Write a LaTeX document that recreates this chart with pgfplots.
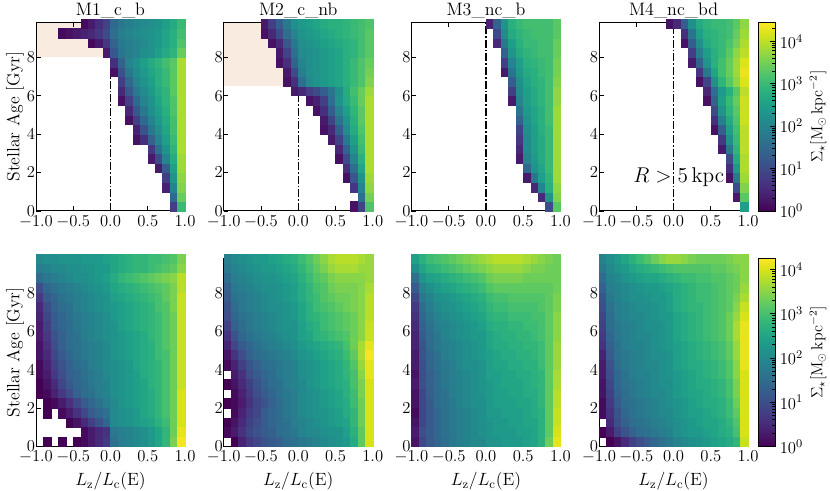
\RequirePackage{fix-cm}
\documentclass[border=0pt]{standalone}
\usepackage{pgfplots}
\usepackage{pgfplotstable}
\pgfplotsset{compat=1.18}
\definecolor{shadecol}{RGB}{250,235,224}
\pgfdeclareplotmark{cell}{\pgfpathrectangle{\pgfpoint{-2.794pt}{-3.602pt}}{\pgfpoint{5.588pt}{7.204pt}}\pgfusepathqfillstroke}
\pgfplotsset{
 panel/.style={scale only axis, width=111.75pt, height=141.2pt, xmin=-1, xmax=1, ymin=0, ymax=9.8,
  xtick={-1,-0.5,0,0.5,1}, xticklabels={$-1.0$,$-0.5$,$0.0$,$0.5$,$1.0$}, ytick={0,2,4,6,8},
  tick align=inside, major tick length=3.5pt, axis on top,
  tick label style={font=\fontsize{12.5}{14}\selectfont, inner xsep=0.5pt},
  ylabel style={font=\fontsize{13.3}{15}\selectfont, at={(axis description cs:-0.141,0.5)}, anchor=center},
  xlabel style={font=\fontsize{13.3}{15}\selectfont, at={(axis description cs:0.5,0)}, anchor=base, yshift=-29.5pt},
  title style={font=\fontsize{13.5}{16}\selectfont, at={(axis description cs:0.5,1)}, anchor=base, yshift=-1pt},
  colormap/viridis, point meta min=0,
  every tick/.style={black, line width=0.6pt}, axis line style={line width=0.7pt}},
 toprow/.style={point meta max=4.44},
 botrow/.style={point meta max=4.25},
 cellplot/.style={scatter, only marks, mark=cell, line width=0.25pt,
  scatter/use mapped color={draw=mapped color, fill=mapped color}, point meta=\thisrow{c}},
 zeroline/.style={black, line width=1.1pt, dash pattern=on 6pt off 1.5pt on 1.2pt off 1.5pt},
 shadeplot/.style={draw=none, fill=shadecol},
 cbcommon/.style={at={(parent axis.north east)}, anchor=north west, xshift=-1pt,
  scale only axis, width=12.75pt, height=141.2pt,
  ytick={0,1,2,3,4}, yticklabels={$10^{0}$,$10^{1}$,$10^{2}$,$10^{3}$,$10^{4}$},
  ytick pos=right, yticklabel pos=right, tick align=inside, major tick length=3.5pt, minor tick length=2pt,
  tick label style={font=\fontsize{12.5}{14}\selectfont}},
 cbtop/.style={colorbar, colorbar style={cbcommon,
  minor ytick={0.301,0.477,0.602,0.699,0.778,0.845,0.903,0.954,1.301,1.477,1.602,1.699,1.778,1.845,1.903,1.954,2.301,2.477,2.602,2.699,2.778,2.845,2.903,2.954,3.301,3.477,3.602,3.699,3.778,3.845,3.903,3.954,4.301}}},
 cbbot/.style={colorbar, colorbar style={cbcommon,
  minor ytick={0.301,0.477,0.602,0.699,0.778,0.845,0.903,0.954,1.301,1.477,1.602,1.699,1.778,1.845,1.903,1.954,2.301,2.477,2.602,2.699,2.778,2.845,2.903,2.954,3.301,3.477,3.602,3.699,3.778,3.845,3.903,3.954}}},
}
% ---- M1 top
\pgfplotstableread{
x y c
0.85 0.25 0.8
0.95 0.25 3.0
0.85 0.75 1.5
0.95 0.75 3.4
0.75 1.25 0.4
0.85 1.25 2.0
0.95 1.25 3.6
0.75 1.75 0.8
0.85 1.75 2.3
0.95 1.75 3.7
0.65 2.25 0.3
0.75 2.25 1.3
0.85 2.25 2.5
0.95 2.25 3.8
0.55 2.75 0.3
0.65 2.75 1.0
0.75 2.75 2.0
0.85 2.75 2.7
0.95 2.75 3.8
0.55 3.25 0.7
0.65 3.25 1.6
0.75 3.25 2.3
0.85 3.25 2.9
0.95 3.25 3.9
0.35 3.75 0.2
0.45 3.75 0.6
0.55 3.75 1.4
0.65 3.75 2.0
0.75 3.75 2.5
0.85 3.75 3.0
0.95 3.75 3.9
0.35 4.25 0.4
0.45 4.25 1.1
0.55 4.25 1.8
0.65 4.25 2.2
0.75 4.25 2.6
0.85 4.25 3.1
0.95 4.25 3.9
0.25 4.75 0.2
0.35 4.75 0.8
0.45 4.75 1.5
0.55 4.75 2.0
0.65 4.75 2.4
0.75 4.75 2.7
0.85 4.75 3.1
0.95 4.75 3.9
0.25 5.25 0.5
0.35 5.25 1.2
0.45 5.25 1.8
0.55 5.25 2.2
0.65 5.25 2.5
0.75 5.25 2.8
0.85 5.25 3.2
0.95 5.25 3.9
0.15 5.75 0.2
0.25 5.75 0.8
0.35 5.75 1.5
0.45 5.75 2.0
0.55 5.75 2.3
0.65 5.75 2.6
0.75 5.75 2.9
0.85 5.75 3.2
0.95 5.75 3.9
0.15 6.25 0.5
0.25 6.25 1.2
0.35 6.25 1.8
0.45 6.25 2.1
0.55 6.25 2.4
0.65 6.25 2.7
0.75 6.25 2.9
0.85 6.25 3.3
0.95 6.25 3.9
0.15 6.75 0.8
0.25 6.75 1.5
0.35 6.75 2.0
0.45 6.75 2.3
0.55 6.75 2.5
0.65 6.75 2.8
0.75 6.75 3.0
0.85 6.75 3.3
0.95 6.75 3.9
0.05 7.25 0.2
0.15 7.25 1.1
0.25 7.25 1.8
0.35 7.25 2.1
0.45 7.25 2.4
0.55 7.25 2.6
0.65 7.25 2.8
0.75 7.25 3.0
0.85 7.25 3.3
0.95 7.25 3.9
0.05 7.75 0.6
0.15 7.75 1.4
0.25 7.75 2.0
0.35 7.75 2.2
0.45 7.75 2.5
0.55 7.75 2.7
0.65 7.75 2.9
0.75 7.75 3.1
0.85 7.75 3.3
0.95 7.75 3.9
-0.05 8.25 0.3
0.05 8.25 1.2
0.15 8.25 1.7
0.25 8.25 1.9
0.35 8.25 2.0
0.45 8.25 2.2
0.55 8.25 2.3
0.65 8.25 2.5
0.75 8.25 2.7
0.85 8.25 2.9
0.95 8.25 3.4
-0.25 8.75 0.1
-0.15 8.75 0.3
-0.05 8.75 0.7
0.05 8.75 1.4
0.15 8.75 1.8
0.25 8.75 1.9
0.35 8.75 2.0
0.45 8.75 2.1
0.55 8.75 2.3
0.65 8.75 2.4
0.75 8.75 2.6
0.85 8.75 2.8
0.95 8.75 3.2
-0.65 9.25 0.1
-0.55 9.25 0.2
-0.45 9.25 0.3
-0.35 9.25 0.4
-0.25 9.25 0.5
-0.15 9.25 0.7
-0.05 9.25 1.0
0.05 9.25 1.6
0.15 9.25 1.9
0.25 9.25 2.0
0.35 9.25 2.1
0.45 9.25 2.2
0.55 9.25 2.3
0.65 9.25 2.4
0.75 9.25 2.6
0.85 9.25 2.8
0.95 9.25 3.1
-0.35 9.75 0.1
-0.25 9.75 0.3
-0.15 9.75 0.6
-0.05 9.75 0.9
0.05 9.75 1.5
0.15 9.75 1.8
0.25 9.75 1.9
0.35 9.75 2.0
0.45 9.75 2.1
0.55 9.75 2.2
0.65 9.75 2.3
0.75 9.75 2.5
0.85 9.75 2.7
0.95 9.75 3.0
}\TabAt
% ---- M2 top
\pgfplotstableread{
x y c
0.75 0.25 0.2
0.85 0.25 0.9
0.95 0.25 3.2
0.85 0.75 1.6
0.95 0.75 3.5
0.75 1.25 0.7
0.85 1.25 2.0
0.95 1.25 3.7
0.65 1.75 0.2
0.75 1.75 1.2
0.85 1.75 2.3
0.95 1.75 3.8
0.65 2.25 0.6
0.75 2.25 1.6
0.85 2.25 2.6
0.95 2.25 3.9
0.55 2.75 0.2
0.65 2.75 1.0
0.75 2.75 2.0
0.85 2.75 2.8
0.95 2.75 3.9
0.55 3.25 0.5
0.65 3.25 1.4
0.75 3.25 2.3
0.85 3.25 3.0
0.95 3.25 3.9
0.45 3.75 0.3
0.55 3.75 0.9
0.65 3.75 1.8
0.75 3.75 2.5
0.85 3.75 3.1
0.95 3.75 3.9
0.35 4.25 0.2
0.45 4.25 0.5
0.55 4.25 1.3
0.65 4.25 2.1
0.75 4.25 2.7
0.85 4.25 3.2
0.95 4.25 3.9
0.35 4.75 0.3
0.45 4.75 0.9
0.55 4.75 1.7
0.65 4.75 2.3
0.75 4.75 2.8
0.85 4.75 3.3
0.95 4.75 3.9
0.25 5.25 0.2
0.35 5.25 0.6
0.45 5.25 1.3
0.55 5.25 2.0
0.65 5.25 2.5
0.75 5.25 2.9
0.85 5.25 3.3
0.95 5.25 3.9
0.15 5.75 0.2
0.25 5.75 0.4
0.35 5.75 0.8
0.45 5.75 1.6
0.55 5.75 2.3
0.65 5.75 2.7
0.75 5.75 3.0
0.85 5.75 3.4
0.95 5.75 3.9
-0.05 6.25 0.3
0.05 6.25 0.5
0.15 6.25 0.8
0.25 6.25 1.0
0.35 6.25 1.3
0.45 6.25 1.7
0.55 6.25 2.2
0.65 6.25 2.7
0.75 6.25 3.1
0.85 6.25 3.4
0.95 6.25 3.8
-0.15 6.75 0.2
-0.05 6.75 0.6
0.05 6.75 1.6
0.15 6.75 2.1
0.25 6.75 2.3
0.35 6.75 2.4
0.45 6.75 2.5
0.55 6.75 2.6
0.65 6.75 2.8
0.75 6.75 3.0
0.85 6.75 3.2
0.95 6.75 3.6
-0.15 7.25 0.3
-0.05 7.25 1.0
0.05 7.25 1.9
0.15 7.25 2.2
0.25 7.25 2.3
0.35 7.25 2.4
0.45 7.25 2.5
0.55 7.25 2.6
0.65 7.25 2.8
0.75 7.25 3.0
0.85 7.25 3.2
0.95 7.25 3.5
-0.25 7.75 0.2
-0.15 7.75 0.6
-0.05 7.75 1.4
0.05 7.75 2.0
0.15 7.75 2.2
0.25 7.75 2.3
0.35 7.75 2.4
0.45 7.75 2.5
0.55 7.75 2.6
0.65 7.75 2.8
0.75 7.75 3.0
0.85 7.75 3.2
0.95 7.75 3.4
-0.25 8.25 0.3
-0.15 8.25 0.9
-0.05 8.25 1.6
0.05 8.25 2.1
0.15 8.25 2.2
0.25 8.25 2.3
0.35 8.25 2.4
0.45 8.25 2.5
0.55 8.25 2.6
0.65 8.25 2.8
0.75 8.25 2.9
0.85 8.25 3.1
0.95 8.25 3.3
-0.35 8.75 0.2
-0.25 8.75 0.5
-0.15 8.75 1.2
-0.05 8.75 1.8
0.05 8.75 2.2
0.15 8.75 2.3
0.25 8.75 2.4
0.35 8.75 2.5
0.45 8.75 2.6
0.55 8.75 2.7
0.65 8.75 2.8
0.75 8.75 2.9
0.85 8.75 3.1
0.95 8.75 3.3
-0.45 9.25 0.2
-0.35 9.25 0.5
-0.25 9.25 1.0
-0.15 9.25 1.6
-0.05 9.25 2.0
0.05 9.25 2.3
0.15 9.25 2.4
0.25 9.25 2.5
0.35 9.25 2.6
0.45 9.25 2.7
0.55 9.25 2.8
0.65 9.25 2.9
0.75 9.25 3.0
0.85 9.25 3.1
0.95 9.25 3.3
-0.45 9.75 0.3
-0.35 9.75 0.8
-0.25 9.75 1.3
-0.15 9.75 1.8
-0.05 9.75 2.2
0.05 9.75 2.4
0.15 9.75 2.5
0.25 9.75 2.6
0.35 9.75 2.7
0.45 9.75 2.8
0.55 9.75 2.8
0.65 9.75 2.9
0.75 9.75 3.0
0.85 9.75 3.1
0.95 9.75 3.2
}\TabBt
% ---- M3 top
\pgfplotstableread{
x y c
0.85 0.25 1.0
0.95 0.25 3.3
0.75 0.75 0.5
0.85 0.75 2.3
0.95 0.75 3.6
0.65 1.25 0.5
0.75 1.25 2.0
0.85 1.25 2.8
0.95 1.25 3.7
0.55 1.75 0.3
0.65 1.75 1.8
0.75 1.75 2.5
0.85 1.75 2.9
0.95 1.75 3.8
0.55 2.25 1.5
0.65 2.25 2.3
0.75 2.25 2.6
0.85 2.25 3.0
0.95 2.25 3.8
0.45 2.75 0.3
0.55 2.75 2.0
0.65 2.75 2.4
0.75 2.75 2.7
0.85 2.75 3.0
0.95 2.75 3.8
0.45 3.25 0.5
0.55 3.25 2.1
0.65 3.25 2.5
0.75 3.25 2.7
0.85 3.25 3.0
0.95 3.25 3.8
0.45 3.75 0.7
0.55 3.75 2.1
0.65 3.75 2.5
0.75 3.75 2.7
0.85 3.75 3.0
0.95 3.75 3.8
0.45 4.25 0.9
0.55 4.25 2.2
0.65 4.25 2.5
0.75 4.25 2.8
0.85 4.25 3.0
0.95 4.25 3.8
0.45 4.75 1.4
0.55 4.75 2.3
0.65 4.75 2.6
0.75 4.75 2.8
0.85 4.75 3.1
0.95 4.75 3.8
0.45 5.25 1.7
0.55 5.25 2.4
0.65 5.25 2.6
0.75 5.25 2.8
0.85 5.25 3.1
0.95 5.25 3.8
0.35 5.75 0.3
0.45 5.75 2.0
0.55 5.75 2.5
0.65 5.75 2.7
0.75 5.75 2.9
0.85 5.75 3.1
0.95 5.75 3.7
0.35 6.25 0.8
0.45 6.25 2.1
0.55 6.25 2.5
0.65 6.25 2.7
0.75 6.25 2.9
0.85 6.25 3.1
0.95 6.25 3.7
0.35 6.75 1.3
0.45 6.75 2.2
0.55 6.75 2.6
0.65 6.75 2.8
0.75 6.75 2.9
0.85 6.75 3.1
0.95 6.75 3.6
0.25 7.25 0.3
0.35 7.25 1.7
0.45 7.25 2.4
0.55 7.25 2.7
0.65 7.25 2.8
0.75 7.25 3.0
0.85 7.25 3.1
0.95 7.25 3.5
0.25 7.75 0.8
0.35 7.75 2.0
0.45 7.75 2.5
0.55 7.75 2.8
0.65 7.75 2.9
0.75 7.75 3.0
0.85 7.75 3.1
0.95 7.75 3.5
0.25 8.25 1.4
0.35 8.25 2.3
0.45 8.25 2.7
0.55 8.25 2.9
0.65 8.25 3.0
0.75 8.25 3.1
0.85 8.25 3.1
0.95 8.25 3.4
0.15 8.75 0.5
0.25 8.75 1.8
0.35 8.75 2.5
0.45 8.75 2.8
0.55 8.75 3.0
0.65 8.75 3.0
0.75 8.75 3.1
0.85 8.75 3.1
0.95 8.75 3.4
0.15 9.25 1.0
0.25 9.25 2.1
0.35 9.25 2.7
0.45 9.25 2.9
0.55 9.25 3.0
0.65 9.25 3.1
0.75 9.25 3.1
0.85 9.25 3.1
0.95 9.25 3.3
0.05 9.75 0.4
0.15 9.75 1.4
0.25 9.75 2.3
0.35 9.75 2.8
0.45 9.75 3.0
0.55 9.75 3.1
0.65 9.75 3.1
0.75 9.75 3.1
0.85 9.75 3.1
0.95 9.75 3.3
}\TabCt
% ---- M4 top
\pgfplotstableread{
x y c
0.95 0.25 2.5
0.85 0.75 0.3
0.95 0.75 3.3
0.85 1.25 1.0
0.95 1.25 3.6
0.75 1.75 0.2
0.85 1.75 1.8
0.95 1.75 3.8
0.75 2.25 0.6
0.85 2.25 2.4
0.95 2.25 3.9
0.75 2.75 1.0
0.85 2.75 2.7
0.95 2.75 3.9
0.65 3.25 0.3
0.75 3.25 1.8
0.85 3.25 2.9
0.95 3.25 4.0
0.65 3.75 0.7
0.75 3.75 2.2
0.85 3.75 3.0
0.95 3.75 4.0
0.55 4.25 0.2
0.65 4.25 1.3
0.75 4.25 2.5
0.85 4.25 3.1
0.95 4.25 4.0
0.55 4.75 0.6
0.65 4.75 1.9
0.75 4.75 2.7
0.85 4.75 3.2
0.95 4.75 4.1
0.55 5.25 1.0
0.65 5.25 2.3
0.75 5.25 2.9
0.85 5.25 3.3
0.95 5.25 4.1
0.45 5.75 0.2
0.55 5.75 1.4
0.65 5.75 2.5
0.75 5.75 3.0
0.85 5.75 3.4
0.95 5.75 4.1
0.45 6.25 0.5
0.55 6.25 1.6
0.65 6.25 2.4
0.75 6.25 2.8
0.85 6.25 3.3
0.95 6.25 4.0
0.35 6.75 0.2
0.45 6.75 0.9
0.55 6.75 2.2
0.65 6.75 2.9
0.75 6.75 3.3
0.85 6.75 3.7
0.95 6.75 4.2
0.35 7.25 0.7
0.45 7.25 1.8
0.55 7.25 2.6
0.65 7.25 3.1
0.75 7.25 3.4
0.85 7.25 3.8
0.95 7.25 4.3
0.25 7.75 0.3
0.35 7.75 1.4
0.45 7.75 2.3
0.55 7.75 2.8
0.65 7.75 3.1
0.75 7.75 3.4
0.85 7.75 3.8
0.95 7.75 4.2
0.25 8.25 0.8
0.35 8.25 1.9
0.45 8.25 2.5
0.55 8.25 2.8
0.65 8.25 3.0
0.75 8.25 3.3
0.85 8.25 3.7
0.95 8.25 4.0
0.15 8.75 0.2
0.25 8.75 1.3
0.35 8.75 2.2
0.45 8.75 2.7
0.55 8.75 2.9
0.65 8.75 3.0
0.75 8.75 3.2
0.85 8.75 3.5
0.95 8.75 3.9
0.15 9.25 0.6
0.25 9.25 1.7
0.35 9.25 2.5
0.45 9.25 2.8
0.55 9.25 2.9
0.65 9.25 3.0
0.75 9.25 3.1
0.85 9.25 3.4
0.95 9.25 3.8
-0.05 9.75 0.2
0.05 9.75 0.5
0.15 9.75 1.3
0.25 9.75 2.2
0.35 9.75 2.7
0.45 9.75 2.9
0.55 9.75 3.0
0.65 9.75 3.0
0.75 9.75 3.1
0.85 9.75 3.3
0.95 9.75 3.7
}\TabDt
% ---- M1 bottom
\pgfplotstableread{
x y c
-0.95 9.75 2.0
-0.85 9.75 2.1
-0.75 9.75 2.1
-0.65 9.75 2.2
-0.55 9.75 2.2
-0.45 9.75 2.2
-0.35 9.75 2.3
-0.25 9.75 2.3
-0.15 9.75 2.3
-0.05 9.75 2.4
0.05 9.75 2.5
0.15 9.75 2.6
0.25 9.75 2.7
0.35 9.75 2.8
0.45 9.75 2.8
0.55 9.75 2.9
0.65 9.75 2.9
0.75 9.75 3.0
0.85 9.75 3.1
0.95 9.75 3.4
-0.95 9.25 1.8
-0.85 9.25 1.9
-0.75 9.25 2.0
-0.65 9.25 2.0
-0.55 9.25 2.1
-0.45 9.25 2.1
-0.35 9.25 2.2
-0.25 9.25 2.2
-0.15 9.25 2.3
-0.05 9.25 2.3
0.05 9.25 2.5
0.15 9.25 2.6
0.25 9.25 2.7
0.35 9.25 2.8
0.45 9.25 2.8
0.55 9.25 2.9
0.65 9.25 3.0
0.75 9.25 3.1
0.85 9.25 3.2
0.95 9.25 3.5
-0.95 8.75 1.5
-0.85 8.75 1.7
-0.75 8.75 1.8
-0.65 8.75 1.9
-0.55 8.75 2.0
-0.45 8.75 2.1
-0.35 8.75 2.1
-0.25 8.75 2.2
-0.15 8.75 2.3
-0.05 8.75 2.4
0.05 8.75 2.6
0.15 8.75 2.8
0.25 8.75 2.9
0.35 8.75 3.0
0.45 8.75 3.1
0.55 8.75 3.2
0.65 8.75 3.3
0.75 8.75 3.4
0.85 8.75 3.5
0.95 8.75 3.8
-0.95 8.25 1.0
-0.85 8.25 1.4
-0.75 8.25 1.6
-0.65 8.25 1.7
-0.55 8.25 1.8
-0.45 8.25 1.9
-0.35 8.25 2.0
-0.25 8.25 2.1
-0.15 8.25 2.2
-0.05 8.25 2.3
0.05 8.25 2.5
0.15 8.25 2.6
0.25 8.25 2.7
0.35 8.25 2.8
0.45 8.25 2.9
0.55 8.25 3.0
0.65 8.25 3.1
0.75 8.25 3.2
0.85 8.25 3.4
0.95 8.25 3.8
-0.95 7.75 0.7
-0.85 7.75 1.2
-0.75 7.75 1.4
-0.65 7.75 1.6
-0.55 7.75 1.7
-0.45 7.75 1.8
-0.35 7.75 1.9
-0.25 7.75 2.0
-0.15 7.75 2.1
-0.05 7.75 2.2
0.05 7.75 2.4
0.15 7.75 2.5
0.25 7.75 2.6
0.35 7.75 2.7
0.45 7.75 2.8
0.55 7.75 2.9
0.65 7.75 3.0
0.75 7.75 3.2
0.85 7.75 3.4
0.95 7.75 3.9
-0.95 7.25 0.5
-0.85 7.25 1.0
-0.75 7.25 1.3
-0.65 7.25 1.5
-0.55 7.25 1.6
-0.45 7.25 1.8
-0.35 7.25 1.9
-0.25 7.25 2.0
-0.15 7.25 2.1
-0.05 7.25 2.2
0.05 7.25 2.3
0.15 7.25 2.4
0.25 7.25 2.5
0.35 7.25 2.6
0.45 7.25 2.7
0.55 7.25 2.8
0.65 7.25 3.0
0.75 7.25 3.1
0.85 7.25 3.4
0.95 7.25 3.9
-0.95 6.75 0.4
-0.85 6.75 0.9
-0.75 6.75 1.2
-0.65 6.75 1.4
-0.55 6.75 1.6
-0.45 6.75 1.7
-0.35 6.75 1.8
-0.25 6.75 1.9
-0.15 6.75 2.0
-0.05 6.75 2.1
0.05 6.75 2.3
0.15 6.75 2.4
0.25 6.75 2.5
0.35 6.75 2.6
0.45 6.75 2.7
0.55 6.75 2.8
0.65 6.75 2.9
0.75 6.75 3.1
0.85 6.75 3.3
0.95 6.75 3.9
-0.95 6.25 0.3
-0.85 6.25 0.8
-0.75 6.25 1.2
-0.65 6.25 1.4
-0.55 6.25 1.5
-0.45 6.25 1.7
-0.35 6.25 1.8
-0.25 6.25 1.9
-0.15 6.25 2.0
-0.05 6.25 2.1
0.05 6.25 2.2
0.15 6.25 2.4
0.25 6.25 2.5
0.35 6.25 2.6
0.45 6.25 2.7
0.55 6.25 2.8
0.65 6.25 2.9
0.75 6.25 3.1
0.85 6.25 3.3
0.95 6.25 3.9
-0.95 5.75 0.3
-0.85 5.75 0.7
-0.75 5.75 1.1
-0.65 5.75 1.3
-0.55 5.75 1.5
-0.45 5.75 1.6
-0.35 5.75 1.8
-0.25 5.75 1.9
-0.15 5.75 2.0
-0.05 5.75 2.1
0.05 5.75 2.2
0.15 5.75 2.3
0.25 5.75 2.4
0.35 5.75 2.5
0.45 5.75 2.6
0.55 5.75 2.8
0.65 5.75 2.9
0.75 5.75 3.1
0.85 5.75 3.3
0.95 5.75 3.9
-0.95 5.25 0.2
-0.85 5.25 0.6
-0.75 5.25 1.0
-0.65 5.25 1.3
-0.55 5.25 1.5
-0.45 5.25 1.6
-0.35 5.25 1.7
-0.25 5.25 1.8
-0.15 5.25 1.9
-0.05 5.25 2.0
0.05 5.25 2.2
0.15 5.25 2.3
0.25 5.25 2.4
0.35 5.25 2.5
0.45 5.25 2.6
0.55 5.25 2.7
0.65 5.25 2.9
0.75 5.25 3.1
0.85 5.25 3.3
0.95 5.25 3.9
-0.95 4.75 0.2
-0.85 4.75 0.5
-0.75 4.75 0.9
-0.65 4.75 1.2
-0.55 4.75 1.4
-0.45 4.75 1.6
-0.35 4.75 1.7
-0.25 4.75 1.8
-0.15 4.75 1.9
-0.05 4.75 2.0
0.05 4.75 2.2
0.15 4.75 2.3
0.25 4.75 2.4
0.35 4.75 2.5
0.45 4.75 2.6
0.55 4.75 2.7
0.65 4.75 2.9
0.75 4.75 3.0
0.85 4.75 3.3
0.95 4.75 3.9
-0.95 4.25 0.1
-0.85 4.25 0.4
-0.75 4.25 0.8
-0.65 4.25 1.1
-0.55 4.25 1.3
-0.45 4.25 1.5
-0.35 4.25 1.6
-0.25 4.25 1.8
-0.15 4.25 1.9
-0.05 4.25 2.0
0.05 4.25 2.1
0.15 4.25 2.2
0.25 4.25 2.3
0.35 4.25 2.5
0.45 4.25 2.6
0.55 4.25 2.7
0.65 4.25 2.8
0.75 4.25 3.0
0.85 4.25 3.3
0.95 4.25 3.9
-0.95 3.75 0.1
-0.85 3.75 0.3
-0.75 3.75 0.7
-0.65 3.75 1.0
-0.55 3.75 1.3
-0.45 3.75 1.4
-0.35 3.75 1.6
-0.25 3.75 1.7
-0.15 3.75 1.8
-0.05 3.75 2.0
0.05 3.75 2.1
0.15 3.75 2.2
0.25 3.75 2.3
0.35 3.75 2.4
0.45 3.75 2.6
0.55 3.75 2.7
0.65 3.75 2.8
0.75 3.75 3.0
0.85 3.75 3.3
0.95 3.75 3.9
-0.95 3.25 0.0
-0.85 3.25 0.2
-0.75 3.25 0.5
-0.65 3.25 0.9
-0.55 3.25 1.2
-0.45 3.25 1.4
-0.35 3.25 1.5
-0.25 3.25 1.7
-0.15 3.25 1.8
-0.05 3.25 1.9
0.05 3.25 2.1
0.15 3.25 2.2
0.25 3.25 2.3
0.35 3.25 2.4
0.45 3.25 2.5
0.55 3.25 2.7
0.65 3.25 2.8
0.75 3.25 3.0
0.85 3.25 3.3
0.95 3.25 3.9
-0.95 2.75 0.0
-0.85 2.75 0.1
-0.75 2.75 0.4
-0.65 2.75 0.7
-0.55 2.75 1.0
-0.45 2.75 1.3
-0.35 2.75 1.5
-0.25 2.75 1.6
-0.15 2.75 1.8
-0.05 2.75 1.9
0.05 2.75 2.1
0.15 2.75 2.2
0.25 2.75 2.3
0.35 2.75 2.4
0.45 2.75 2.5
0.55 2.75 2.6
0.65 2.75 2.8
0.75 2.75 3.0
0.85 2.75 3.3
0.95 2.75 4.0
-0.85 2.25 0.0
-0.75 2.25 0.1
-0.65 2.25 0.3
-0.55 2.25 0.6
-0.45 2.25 0.9
-0.35 2.25 1.2
-0.25 2.25 1.4
-0.15 2.25 1.6
-0.05 2.25 1.8
0.05 2.25 2.0
0.15 2.25 2.2
0.25 2.25 2.3
0.35 2.25 2.4
0.45 2.25 2.5
0.55 2.25 2.6
0.65 2.25 2.8
0.75 2.25 3.0
0.85 2.25 3.3
0.95 2.25 4.0
-0.85 1.75 0.0
-0.65 1.75 0.1
-0.55 1.75 0.3
-0.45 1.75 0.6
-0.35 1.75 0.9
-0.25 1.75 1.2
-0.15 1.75 1.4
-0.05 1.75 1.6
0.05 1.75 2.0
0.15 1.75 2.1
0.25 1.75 2.2
0.35 1.75 2.3
0.45 1.75 2.5
0.55 1.75 2.6
0.65 1.75 2.8
0.75 1.75 3.0
0.85 1.75 3.3
0.95 1.75 4.0
-0.55 1.25 0.0
-0.45 1.25 0.2
-0.35 1.25 0.5
-0.25 1.25 0.8
-0.15 1.25 1.1
-0.05 1.25 1.4
0.05 1.25 2.0
0.15 1.25 2.1
0.25 1.25 2.2
0.35 1.25 2.3
0.45 1.25 2.4
0.55 1.25 2.5
0.65 1.25 2.7
0.75 1.25 2.9
0.85 1.25 3.3
0.95 1.25 4.0
-0.35 0.75 0.1
-0.25 0.75 0.3
-0.15 0.75 0.5
-0.05 0.75 0.6
0.05 0.75 1.7
0.15 0.75 1.8
0.25 0.75 1.9
0.35 0.75 2.0
0.45 0.75 2.1
0.55 0.75 2.3
0.65 0.75 2.5
0.75 0.75 2.8
0.85 0.75 3.3
0.95 0.75 4.1
-0.85 0.25 0.0
-0.65 0.25 0.0
-0.45 0.25 0.0
-0.35 0.25 0.1
-0.25 0.25 0.3
-0.15 0.25 0.5
-0.05 0.25 0.7
0.05 0.25 1.6
0.15 0.25 1.8
0.25 0.25 1.9
0.35 0.25 2.0
0.45 0.25 2.1
0.55 0.25 2.3
0.65 0.25 2.5
0.75 0.25 2.8
0.85 0.25 3.4
0.95 0.25 4.2
}\TabAb
% ---- M2 bottom
\pgfplotstableread{
x y c
-0.95 9.75 1.8
-0.85 9.75 2.0
-0.75 9.75 2.1
-0.65 9.75 2.2
-0.55 9.75 2.3
-0.45 9.75 2.3
-0.35 9.75 2.4
-0.25 9.75 2.5
-0.15 9.75 2.6
-0.05 9.75 2.7
0.05 9.75 2.9
0.15 9.75 3.1
0.25 9.75 3.3
0.35 9.75 3.5
0.45 9.75 3.7
0.55 9.75 3.8
0.65 9.75 3.8
0.75 9.75 3.8
0.85 9.75 3.7
0.95 9.75 3.6
-0.95 9.25 1.7
-0.85 9.25 1.9
-0.75 9.25 2.0
-0.65 9.25 2.1
-0.55 9.25 2.2
-0.45 9.25 2.3
-0.35 9.25 2.3
-0.25 9.25 2.4
-0.15 9.25 2.5
-0.05 9.25 2.6
0.05 9.25 2.8
0.15 9.25 3.0
0.25 9.25 3.2
0.35 9.25 3.4
0.45 9.25 3.6
0.55 9.25 3.7
0.65 9.25 3.7
0.75 9.25 3.7
0.85 9.25 3.6
0.95 9.25 3.6
-0.95 8.75 1.5
-0.85 8.75 1.8
-0.75 8.75 1.9
-0.65 8.75 2.0
-0.55 8.75 2.1
-0.45 8.75 2.2
-0.35 8.75 2.2
-0.25 8.75 2.3
-0.15 8.75 2.4
-0.05 8.75 2.5
0.05 8.75 2.7
0.15 8.75 2.9
0.25 8.75 3.1
0.35 8.75 3.2
0.45 8.75 3.4
0.55 8.75 3.5
0.65 8.75 3.5
0.75 8.75 3.5
0.85 8.75 3.5
0.95 8.75 3.6
-0.95 8.25 1.3
-0.85 8.25 1.7
-0.75 8.25 1.8
-0.65 8.25 1.9
-0.55 8.25 2.0
-0.45 8.25 2.1
-0.35 8.25 2.1
-0.25 8.25 2.2
-0.15 8.25 2.3
-0.05 8.25 2.4
0.05 8.25 2.6
0.15 8.25 2.8
0.25 8.25 3.0
0.35 8.25 3.1
0.45 8.25 3.3
0.55 8.25 3.4
0.65 8.25 3.4
0.75 8.25 3.4
0.85 8.25 3.5
0.95 8.25 3.7
-0.95 7.75 1.2
-0.85 7.75 1.6
-0.75 7.75 1.7
-0.65 7.75 1.8
-0.55 7.75 1.9
-0.45 7.75 2.0
-0.35 7.75 2.1
-0.25 7.75 2.2
-0.15 7.75 2.3
-0.05 7.75 2.4
0.05 7.75 2.6
0.15 7.75 2.8
0.25 7.75 2.9
0.35 7.75 3.1
0.45 7.75 3.2
0.55 7.75 3.3
0.65 7.75 3.3
0.75 7.75 3.4
0.85 7.75 3.5
0.95 7.75 3.8
-0.95 7.25 1.1
-0.85 7.25 1.5
-0.75 7.25 1.7
-0.65 7.25 1.8
-0.55 7.25 1.9
-0.45 7.25 2.0
-0.35 7.25 2.1
-0.25 7.25 2.1
-0.15 7.25 2.2
-0.05 7.25 2.3
0.05 7.25 2.5
0.15 7.25 2.7
0.25 7.25 2.9
0.35 7.25 3.0
0.45 7.25 3.1
0.55 7.25 3.2
0.65 7.25 3.3
0.75 7.25 3.4
0.85 7.25 3.5
0.95 7.25 3.8
-0.95 6.75 1.0
-0.85 6.75 1.4
-0.75 6.75 1.6
-0.65 6.75 1.7
-0.55 6.75 1.8
-0.45 6.75 1.9
-0.35 6.75 2.0
-0.25 6.75 2.1
-0.15 6.75 2.2
-0.05 6.75 2.3
0.05 6.75 2.5
0.15 6.75 2.7
0.25 6.75 2.8
0.35 6.75 2.9
0.45 6.75 3.0
0.55 6.75 3.1
0.65 6.75 3.2
0.75 6.75 3.3
0.85 6.75 3.5
0.95 6.75 3.8
-0.95 6.25 0.8
-0.85 6.25 1.3
-0.75 6.25 1.5
-0.65 6.25 1.7
-0.55 6.25 1.8
-0.45 6.25 1.9
-0.35 6.25 2.0
-0.25 6.25 2.1
-0.15 6.25 2.2
-0.05 6.25 2.2
0.05 6.25 2.4
0.15 6.25 2.6
0.25 6.25 2.7
0.35 6.25 2.9
0.45 6.25 3.0
0.55 6.25 3.1
0.65 6.25 3.2
0.75 6.25 3.3
0.85 6.25 3.5
0.95 6.25 3.9
-0.95 5.75 0.6
-0.85 5.75 1.1
-0.75 5.75 1.4
-0.65 5.75 1.6
-0.55 5.75 1.7
-0.45 5.75 1.8
-0.35 5.75 1.9
-0.25 5.75 2.0
-0.15 5.75 2.1
-0.05 5.75 2.2
0.05 5.75 2.4
0.15 5.75 2.5
0.25 5.75 2.7
0.35 5.75 2.8
0.45 5.75 2.9
0.55 5.75 3.0
0.65 5.75 3.1
0.75 5.75 3.3
0.85 5.75 3.5
0.95 5.75 3.9
-0.95 5.25 0.4
-0.85 5.25 0.9
-0.75 5.25 1.2
-0.65 5.25 1.4
-0.55 5.25 1.6
-0.45 5.25 1.7
-0.35 5.25 1.8
-0.25 5.25 1.9
-0.15 5.25 2.0
-0.05 5.25 2.1
0.05 5.25 2.3
0.15 5.25 2.4
0.25 5.25 2.5
0.35 5.25 2.6
0.45 5.25 2.7
0.55 5.25 2.8
0.65 5.25 3.0
0.75 5.25 3.3
0.85 5.25 3.7
0.95 5.25 4.1
-0.95 4.75 0.2
-0.85 4.75 0.6
-0.75 4.75 1.0
-0.65 4.75 1.3
-0.55 4.75 1.5
-0.45 4.75 1.6
-0.35 4.75 1.7
-0.25 4.75 1.8
-0.15 4.75 1.9
-0.05 4.75 2.0
0.05 4.75 2.2
0.15 4.75 2.3
0.25 4.75 2.4
0.35 4.75 2.5
0.45 4.75 2.6
0.55 4.75 2.7
0.65 4.75 2.9
0.75 4.75 3.2
0.85 4.75 3.7
0.95 4.75 4.2
-0.95 4.25 0.1
-0.85 4.25 0.4
-0.75 4.25 0.8
-0.65 4.25 1.1
-0.55 4.25 1.3
-0.45 4.25 1.5
-0.35 4.25 1.6
-0.25 4.25 1.7
-0.15 4.25 1.8
-0.05 4.25 1.9
0.05 4.25 2.1
0.15 4.25 2.2
0.25 4.25 2.3
0.35 4.25 2.4
0.45 4.25 2.5
0.55 4.25 2.6
0.65 4.25 2.8
0.75 4.25 3.1
0.85 4.25 3.6
0.95 4.25 4.1
-0.85 3.75 0.3
-0.75 3.75 0.6
-0.65 3.75 1.0
-0.55 3.75 1.2
-0.45 3.75 1.4
-0.35 3.75 1.5
-0.25 3.75 1.7
-0.15 3.75 1.8
-0.05 3.75 1.9
0.05 3.75 2.1
0.15 3.75 2.2
0.25 3.75 2.3
0.35 3.75 2.4
0.45 3.75 2.5
0.55 3.75 2.6
0.65 3.75 2.8
0.75 3.75 3.0
0.85 3.75 3.5
0.95 3.75 4.1
-0.95 3.25 0.0
-0.85 3.25 0.2
-0.75 3.25 0.5
-0.65 3.25 0.8
-0.55 3.25 1.1
-0.45 3.25 1.3
-0.35 3.25 1.5
-0.25 3.25 1.6
-0.15 3.25 1.8
-0.05 3.25 1.9
0.05 3.25 2.0
0.15 3.25 2.2
0.25 3.25 2.3
0.35 3.25 2.4
0.45 3.25 2.5
0.55 3.25 2.6
0.65 3.25 2.7
0.75 3.25 3.0
0.85 3.25 3.4
0.95 3.25 4.0
-0.85 2.75 0.1
-0.75 2.75 0.4
-0.65 2.75 0.7
-0.55 2.75 1.0
-0.45 2.75 1.2
-0.35 2.75 1.4
-0.25 2.75 1.6
-0.15 2.75 1.7
-0.05 2.75 1.8
0.05 2.75 2.0
0.15 2.75 2.1
0.25 2.75 2.2
0.35 2.75 2.3
0.45 2.75 2.4
0.55 2.75 2.5
0.65 2.75 2.7
0.75 2.75 2.9
0.85 2.75 3.4
0.95 2.75 4.0
-0.95 2.25 0.0
-0.85 2.25 0.1
-0.75 2.25 0.3
-0.65 2.25 0.6
-0.55 2.25 0.9
-0.45 2.25 1.1
-0.35 2.25 1.3
-0.25 2.25 1.5
-0.15 2.25 1.7
-0.05 2.25 1.8
0.05 2.25 2.0
0.15 2.25 2.1
0.25 2.25 2.2
0.35 2.25 2.3
0.45 2.25 2.4
0.55 2.25 2.5
0.65 2.25 2.6
0.75 2.25 2.9
0.85 2.25 3.3
0.95 2.25 4.0
-0.85 1.75 0.1
-0.75 1.75 0.4
-0.65 1.75 0.7
-0.55 1.75 0.9
-0.45 1.75 1.2
-0.35 1.75 1.4
-0.25 1.75 1.5
-0.15 1.75 1.7
-0.05 1.75 1.8
0.05 1.75 2.0
0.15 1.75 2.1
0.25 1.75 2.2
0.35 1.75 2.2
0.45 1.75 2.3
0.55 1.75 2.4
0.65 1.75 2.6
0.75 1.75 2.8
0.85 1.75 3.3
0.95 1.75 4.0
-0.95 1.25 0.0
-0.85 1.25 0.2
-0.75 1.25 0.5
-0.65 1.25 0.8
-0.55 1.25 1.0
-0.45 1.25 1.2
-0.35 1.25 1.4
-0.25 1.25 1.5
-0.15 1.25 1.6
-0.05 1.25 1.8
0.05 1.25 1.9
0.15 1.25 2.0
0.25 1.25 2.1
0.35 1.25 2.2
0.45 1.25 2.3
0.55 1.25 2.4
0.65 1.25 2.5
0.75 1.25 2.8
0.85 1.25 3.3
0.95 1.25 4.0
-0.95 0.75 0.1
-0.85 0.75 0.3
-0.75 0.75 0.6
-0.65 0.75 0.9
-0.55 0.75 1.1
-0.45 0.75 1.2
-0.35 0.75 1.3
-0.25 0.75 1.5
-0.15 0.75 1.6
-0.05 0.75 1.7
0.05 0.75 1.9
0.15 0.75 2.0
0.25 0.75 2.0
0.35 0.75 2.1
0.45 0.75 2.2
0.55 0.75 2.2
0.65 0.75 2.4
0.75 0.75 2.7
0.85 0.75 3.2
0.95 0.75 4.0
-0.85 0.25 0.0
-0.75 0.25 0.4
-0.65 0.25 0.7
-0.55 0.25 0.9
-0.45 0.25 1.1
-0.35 0.25 1.2
-0.25 0.25 1.3
-0.15 0.25 1.5
-0.05 0.25 1.6
0.05 0.25 1.7
0.15 0.25 1.8
0.25 0.25 1.9
0.35 0.25 2.0
0.45 0.25 2.1
0.55 0.25 2.2
0.65 0.25 2.3
0.75 0.25 2.6
0.85 0.25 3.2
0.95 0.25 4.0
}\TabBb
% ---- M3 bottom
\pgfplotstableread{
x y c
-0.95 9.75 2.4
-0.85 9.75 2.7
-0.75 9.75 2.9
-0.65 9.75 3.0
-0.55 9.75 3.1
-0.45 9.75 3.2
-0.35 9.75 3.3
-0.25 9.75 3.4
-0.15 9.75 3.5
-0.05 9.75 3.6
0.05 9.75 3.7
0.15 9.75 3.8
0.25 9.75 3.8
0.35 9.75 3.8
0.45 9.75 3.8
0.55 9.75 3.7
0.65 9.75 3.6
0.75 9.75 3.5
0.85 9.75 3.4
0.95 9.75 3.3
-0.95 9.25 2.1
-0.85 9.25 2.5
-0.75 9.25 2.7
-0.65 9.25 2.8
-0.55 9.25 2.9
-0.45 9.25 3.0
-0.35 9.25 3.1
-0.25 9.25 3.2
-0.15 9.25 3.3
-0.05 9.25 3.4
0.05 9.25 3.5
0.15 9.25 3.6
0.25 9.25 3.6
0.35 9.25 3.6
0.45 9.25 3.6
0.55 9.25 3.5
0.65 9.25 3.4
0.75 9.25 3.4
0.85 9.25 3.3
0.95 9.25 3.3
-0.95 8.75 1.6
-0.85 8.75 2.2
-0.75 8.75 2.4
-0.65 8.75 2.5
-0.55 8.75 2.6
-0.45 8.75 2.7
-0.35 8.75 2.8
-0.25 8.75 2.9
-0.15 8.75 3.0
-0.05 8.75 3.1
0.05 8.75 3.3
0.15 8.75 3.4
0.25 8.75 3.4
0.35 8.75 3.4
0.45 8.75 3.4
0.55 8.75 3.3
0.65 8.75 3.3
0.75 8.75 3.3
0.85 8.75 3.3
0.95 8.75 3.3
-0.95 8.25 1.2
-0.85 8.25 1.9
-0.75 8.25 2.1
-0.65 8.25 2.3
-0.55 8.25 2.4
-0.45 8.25 2.5
-0.35 8.25 2.6
-0.25 8.25 2.7
-0.15 8.25 2.8
-0.05 8.25 2.9
0.05 8.25 3.1
0.15 8.25 3.2
0.25 8.25 3.2
0.35 8.25 3.2
0.45 8.25 3.2
0.55 8.25 3.2
0.65 8.25 3.2
0.75 8.25 3.2
0.85 8.25 3.2
0.95 8.25 3.3
-0.95 7.75 0.9
-0.85 7.75 1.7
-0.75 7.75 1.9
-0.65 7.75 2.1
-0.55 7.75 2.2
-0.45 7.75 2.3
-0.35 7.75 2.4
-0.25 7.75 2.5
-0.15 7.75 2.6
-0.05 7.75 2.7
0.05 7.75 2.9
0.15 7.75 3.0
0.25 7.75 3.0
0.35 7.75 3.1
0.45 7.75 3.1
0.55 7.75 3.1
0.65 7.75 3.1
0.75 7.75 3.1
0.85 7.75 3.2
0.95 7.75 3.4
-0.95 7.25 0.7
-0.85 7.25 1.5
-0.75 7.25 1.8
-0.65 7.25 2.0
-0.55 7.25 2.1
-0.45 7.25 2.2
-0.35 7.25 2.3
-0.25 7.25 2.4
-0.15 7.25 2.5
-0.05 7.25 2.6
0.05 7.25 2.8
0.15 7.25 2.9
0.25 7.25 2.9
0.35 7.25 3.0
0.45 7.25 3.0
0.55 7.25 3.0
0.65 7.25 3.0
0.75 7.25 3.1
0.85 7.25 3.2
0.95 7.25 3.4
-0.95 6.75 0.6
-0.85 6.75 1.4
-0.75 6.75 1.7
-0.65 6.75 1.9
-0.55 6.75 2.0
-0.45 6.75 2.1
-0.35 6.75 2.2
-0.25 6.75 2.3
-0.15 6.75 2.4
-0.05 6.75 2.5
0.05 6.75 2.7
0.15 6.75 2.8
0.25 6.75 2.8
0.35 6.75 2.9
0.45 6.75 2.9
0.55 6.75 2.9
0.65 6.75 3.0
0.75 6.75 3.0
0.85 6.75 3.2
0.95 6.75 3.5
-0.95 6.25 0.5
-0.85 6.25 1.3
-0.75 6.25 1.6
-0.65 6.25 1.8
-0.55 6.25 1.9
-0.45 6.25 2.0
-0.35 6.25 2.1
-0.25 6.25 2.2
-0.15 6.25 2.3
-0.05 6.25 2.4
0.05 6.25 2.6
0.15 6.25 2.7
0.25 6.25 2.7
0.35 6.25 2.8
0.45 6.25 2.8
0.55 6.25 2.9
0.65 6.25 2.9
0.75 6.25 3.0
0.85 6.25 3.2
0.95 6.25 3.5
-0.95 5.75 0.4
-0.85 5.75 1.2
-0.75 5.75 1.5
-0.65 5.75 1.7
-0.55 5.75 1.9
-0.45 5.75 2.0
-0.35 5.75 2.1
-0.25 5.75 2.2
-0.15 5.75 2.3
-0.05 5.75 2.3
0.05 5.75 2.5
0.15 5.75 2.6
0.25 5.75 2.7
0.35 5.75 2.7
0.45 5.75 2.8
0.55 5.75 2.8
0.65 5.75 2.9
0.75 5.75 3.0
0.85 5.75 3.2
0.95 5.75 3.5
-0.95 5.25 0.4
-0.85 5.25 1.1
-0.75 5.25 1.5
-0.65 5.25 1.7
-0.55 5.25 1.8
-0.45 5.25 1.9
-0.35 5.25 2.0
-0.25 5.25 2.1
-0.15 5.25 2.2
-0.05 5.25 2.3
0.05 5.25 2.5
0.15 5.25 2.6
0.25 5.25 2.6
0.35 5.25 2.7
0.45 5.25 2.7
0.55 5.25 2.8
0.65 5.25 2.8
0.75 5.25 2.9
0.85 5.25 3.2
0.95 5.25 3.6
-0.95 4.75 0.3
-0.85 4.75 1.1
-0.75 4.75 1.4
-0.65 4.75 1.6
-0.55 4.75 1.8
-0.45 4.75 1.9
-0.35 4.75 2.0
-0.25 4.75 2.1
-0.15 4.75 2.2
-0.05 4.75 2.3
0.05 4.75 2.4
0.15 4.75 2.5
0.25 4.75 2.6
0.35 4.75 2.6
0.45 4.75 2.7
0.55 4.75 2.7
0.65 4.75 2.8
0.75 4.75 2.9
0.85 4.75 3.2
0.95 4.75 3.6
-0.95 4.25 0.3
-0.85 4.25 1.0
-0.75 4.25 1.4
-0.65 4.25 1.6
-0.55 4.25 1.7
-0.45 4.25 1.8
-0.35 4.25 2.0
-0.25 4.25 2.1
-0.15 4.25 2.1
-0.05 4.25 2.2
0.05 4.25 2.4
0.15 4.25 2.5
0.25 4.25 2.5
0.35 4.25 2.6
0.45 4.25 2.6
0.55 4.25 2.7
0.65 4.25 2.7
0.75 4.25 2.9
0.85 4.25 3.2
0.95 4.25 3.6
-0.95 3.75 0.2
-0.85 3.75 1.0
-0.75 3.75 1.3
-0.65 3.75 1.5
-0.55 3.75 1.7
-0.45 3.75 1.8
-0.35 3.75 1.9
-0.25 3.75 2.0
-0.15 3.75 2.1
-0.05 3.75 2.2
0.05 3.75 2.4
0.15 3.75 2.4
0.25 3.75 2.5
0.35 3.75 2.5
0.45 3.75 2.6
0.55 3.75 2.6
0.65 3.75 2.7
0.75 3.75 2.8
0.85 3.75 3.2
0.95 3.75 3.7
-0.95 3.25 0.3
-0.85 3.25 1.0
-0.75 3.25 1.3
-0.65 3.25 1.5
-0.55 3.25 1.7
-0.45 3.25 1.8
-0.35 3.25 1.9
-0.25 3.25 2.0
-0.15 3.25 2.1
-0.05 3.25 2.2
0.05 3.25 2.3
0.15 3.25 2.4
0.25 3.25 2.5
0.35 3.25 2.5
0.45 3.25 2.5
0.55 3.25 2.6
0.65 3.25 2.7
0.75 3.25 2.8
0.85 3.25 3.2
0.95 3.25 3.7
-0.95 2.75 0.2
-0.85 2.75 0.9
-0.75 2.75 1.3
-0.65 2.75 1.5
-0.55 2.75 1.6
-0.45 2.75 1.8
-0.35 2.75 1.9
-0.25 2.75 2.0
-0.15 2.75 2.1
-0.05 2.75 2.2
0.05 2.75 2.3
0.15 2.75 2.4
0.25 2.75 2.4
0.35 2.75 2.5
0.45 2.75 2.5
0.55 2.75 2.6
0.65 2.75 2.6
0.75 2.75 2.8
0.85 2.75 3.2
0.95 2.75 3.8
-0.95 2.25 0.2
-0.85 2.25 0.9
-0.75 2.25 1.2
-0.65 2.25 1.5
-0.55 2.25 1.6
-0.45 2.25 1.7
-0.35 2.25 1.9
-0.25 2.25 2.0
-0.15 2.25 2.1
-0.05 2.25 2.1
0.05 2.25 2.3
0.15 2.25 2.4
0.25 2.25 2.4
0.35 2.25 2.4
0.45 2.25 2.5
0.55 2.25 2.5
0.65 2.25 2.6
0.75 2.25 2.8
0.85 2.25 3.2
0.95 2.25 3.8
-0.95 1.75 0.1
-0.85 1.75 0.9
-0.75 1.75 1.2
-0.65 1.75 1.4
-0.55 1.75 1.6
-0.45 1.75 1.7
-0.35 1.75 1.8
-0.25 1.75 1.9
-0.15 1.75 2.0
-0.05 1.75 2.1
0.05 1.75 2.3
0.15 1.75 2.3
0.25 1.75 2.4
0.35 1.75 2.4
0.45 1.75 2.4
0.55 1.75 2.5
0.65 1.75 2.6
0.75 1.75 2.7
0.85 1.75 3.2
0.95 1.75 3.9
-0.95 1.25 0.2
-0.85 1.25 0.9
-0.75 1.25 1.2
-0.65 1.25 1.4
-0.55 1.25 1.6
-0.45 1.25 1.7
-0.35 1.25 1.8
-0.25 1.25 1.9
-0.15 1.25 2.0
-0.05 1.25 2.1
0.05 1.25 2.2
0.15 1.25 2.3
0.25 1.25 2.3
0.35 1.25 2.4
0.45 1.25 2.4
0.55 1.25 2.5
0.65 1.25 2.5
0.75 1.25 2.7
0.85 1.25 3.2
0.95 1.25 3.9
-0.95 0.75 0.3
-0.85 0.75 1.0
-0.75 0.75 1.2
-0.65 0.75 1.4
-0.55 0.75 1.6
-0.45 0.75 1.7
-0.35 0.75 1.8
-0.25 0.75 1.9
-0.15 0.75 2.0
-0.05 0.75 2.1
0.05 0.75 2.2
0.15 0.75 2.3
0.25 0.75 2.3
0.35 0.75 2.3
0.45 0.75 2.4
0.55 0.75 2.4
0.65 0.75 2.5
0.75 0.75 2.7
0.85 0.75 3.2
0.95 0.75 4.0
-0.95 0.25 0.2
-0.85 0.25 0.9
-0.75 0.25 1.2
-0.65 0.25 1.4
-0.55 0.25 1.5
-0.45 0.25 1.7
-0.35 0.25 1.8
-0.25 0.25 1.9
-0.15 0.25 2.0
-0.05 0.25 2.0
0.05 0.25 2.2
0.15 0.25 2.2
0.25 0.25 2.3
0.35 0.25 2.3
0.45 0.25 2.3
0.55 0.25 2.4
0.65 0.25 2.5
0.75 0.25 2.7
0.85 0.25 3.3
0.95 0.25 4.1
}\TabCb
% ---- M4 bottom
\pgfplotstableread{
x y c
-0.95 9.75 1.9
-0.85 9.75 2.1
-0.75 9.75 2.3
-0.65 9.75 2.5
-0.55 9.75 2.7
-0.45 9.75 2.9
-0.35 9.75 3.1
-0.25 9.75 3.3
-0.15 9.75 3.5
-0.05 9.75 3.6
0.05 9.75 3.6
0.15 9.75 3.5
0.25 9.75 3.4
0.35 9.75 3.3
0.45 9.75 3.3
0.55 9.75 3.3
0.65 9.75 3.3
0.75 9.75 3.4
0.85 9.75 3.5
0.95 9.75 3.5
-0.95 9.25 1.7
-0.85 9.25 2.0
-0.75 9.25 2.2
-0.65 9.25 2.3
-0.55 9.25 2.5
-0.45 9.25 2.6
-0.35 9.25 2.7
-0.25 9.25 2.8
-0.15 9.25 2.9
-0.05 9.25 3.0
0.05 9.25 3.1
0.15 9.25 3.1
0.25 9.25 3.1
0.35 9.25 3.1
0.45 9.25 3.1
0.55 9.25 3.2
0.65 9.25 3.2
0.75 9.25 3.3
0.85 9.25 3.4
0.95 9.25 3.5
-0.95 8.75 1.5
-0.85 8.75 1.9
-0.75 8.75 2.0
-0.65 8.75 2.2
-0.55 8.75 2.3
-0.45 8.75 2.4
-0.35 8.75 2.5
-0.25 8.75 2.5
-0.15 8.75 2.6
-0.05 8.75 2.7
0.05 8.75 2.8
0.15 8.75 2.9
0.25 8.75 2.9
0.35 8.75 3.0
0.45 8.75 3.0
0.55 8.75 3.1
0.65 8.75 3.1
0.75 8.75 3.2
0.85 8.75 3.3
0.95 8.75 3.5
-0.95 8.25 1.3
-0.85 8.25 1.8
-0.75 8.25 1.9
-0.65 8.25 2.0
-0.55 8.25 2.1
-0.45 8.25 2.2
-0.35 8.25 2.3
-0.25 8.25 2.3
-0.15 8.25 2.4
-0.05 8.25 2.5
0.05 8.25 2.6
0.15 8.25 2.7
0.25 8.25 2.8
0.35 8.25 2.9
0.45 8.25 2.9
0.55 8.25 3.0
0.65 8.25 3.1
0.75 8.25 3.2
0.85 8.25 3.3
0.95 8.25 3.6
-0.95 7.75 1.1
-0.85 7.75 1.7
-0.75 7.75 1.9
-0.65 7.75 2.0
-0.55 7.75 2.1
-0.45 7.75 2.1
-0.35 7.75 2.2
-0.25 7.75 2.3
-0.15 7.75 2.3
-0.05 7.75 2.4
0.05 7.75 2.6
0.15 7.75 2.7
0.25 7.75 2.8
0.35 7.75 2.9
0.45 7.75 2.9
0.55 7.75 3.0
0.65 7.75 3.1
0.75 7.75 3.2
0.85 7.75 3.4
0.95 7.75 3.7
-0.95 7.25 1.0
-0.85 7.25 1.6
-0.75 7.25 1.8
-0.65 7.25 1.9
-0.55 7.25 2.0
-0.45 7.25 2.1
-0.35 7.25 2.1
-0.25 7.25 2.2
-0.15 7.25 2.3
-0.05 7.25 2.4
0.05 7.25 2.6
0.15 7.25 2.7
0.25 7.25 2.8
0.35 7.25 2.8
0.45 7.25 2.9
0.55 7.25 3.0
0.65 7.25 3.1
0.75 7.25 3.2
0.85 7.25 3.5
0.95 7.25 3.9
-0.95 6.75 0.9
-0.85 6.75 1.5
-0.75 6.75 1.8
-0.65 6.75 1.9
-0.55 6.75 2.0
-0.45 6.75 2.0
-0.35 6.75 2.1
-0.25 6.75 2.2
-0.15 6.75 2.3
-0.05 6.75 2.3
0.05 6.75 2.5
0.15 6.75 2.6
0.25 6.75 2.7
0.35 6.75 2.8
0.45 6.75 2.9
0.55 6.75 3.0
0.65 6.75 3.1
0.75 6.75 3.3
0.85 6.75 3.6
0.95 6.75 4.0
-0.95 6.25 0.8
-0.85 6.25 1.5
-0.75 6.25 1.7
-0.65 6.25 1.8
-0.55 6.25 1.9
-0.45 6.25 2.0
-0.35 6.25 2.1
-0.25 6.25 2.1
-0.15 6.25 2.2
-0.05 6.25 2.3
0.05 6.25 2.5
0.15 6.25 2.6
0.25 6.25 2.7
0.35 6.25 2.8
0.45 6.25 2.9
0.55 6.25 3.0
0.65 6.25 3.1
0.75 6.25 3.3
0.85 6.25 3.7
0.95 6.25 4.1
-0.95 5.75 0.7
-0.85 5.75 1.4
-0.75 5.75 1.7
-0.65 5.75 1.8
-0.55 5.75 1.9
-0.45 5.75 2.0
-0.35 5.75 2.0
-0.25 5.75 2.1
-0.15 5.75 2.2
-0.05 5.75 2.3
0.05 5.75 2.5
0.15 5.75 2.6
0.25 5.75 2.7
0.35 5.75 2.8
0.45 5.75 2.9
0.55 5.75 3.0
0.65 5.75 3.1
0.75 5.75 3.3
0.85 5.75 3.7
0.95 5.75 4.1
-0.95 5.25 0.6
-0.85 5.25 1.3
-0.75 5.25 1.6
-0.65 5.25 1.8
-0.55 5.25 1.9
-0.45 5.25 1.9
-0.35 5.25 2.0
-0.25 5.25 2.1
-0.15 5.25 2.2
-0.05 5.25 2.3
0.05 5.25 2.4
0.15 5.25 2.5
0.25 5.25 2.6
0.35 5.25 2.7
0.45 5.25 2.8
0.55 5.25 2.9
0.65 5.25 3.0
0.75 5.25 3.2
0.85 5.25 3.6
0.95 5.25 4.1
-0.95 4.75 0.4
-0.85 4.75 1.2
-0.75 4.75 1.6
-0.65 4.75 1.7
-0.55 4.75 1.8
-0.45 4.75 1.9
-0.35 4.75 2.0
-0.25 4.75 2.1
-0.15 4.75 2.1
-0.05 4.75 2.2
0.05 4.75 2.4
0.15 4.75 2.5
0.25 4.75 2.6
0.35 4.75 2.7
0.45 4.75 2.8
0.55 4.75 2.9
0.65 4.75 3.0
0.75 4.75 3.2
0.85 4.75 3.6
0.95 4.75 4.1
-0.95 4.25 0.3
-0.85 4.25 1.1
-0.75 4.25 1.5
-0.65 4.25 1.7
-0.55 4.25 1.8
-0.45 4.25 1.9
-0.35 4.25 2.0
-0.25 4.25 2.0
-0.15 4.25 2.1
-0.05 4.25 2.2
0.05 4.25 2.4
0.15 4.25 2.5
0.25 4.25 2.6
0.35 4.25 2.6
0.45 4.25 2.7
0.55 4.25 2.8
0.65 4.25 2.9
0.75 4.25 3.1
0.85 4.25 3.5
0.95 4.25 4.1
-0.95 3.75 0.3
-0.85 3.75 1.0
-0.75 3.75 1.4
-0.65 3.75 1.6
-0.55 3.75 1.8
-0.45 3.75 1.9
-0.35 3.75 1.9
-0.25 3.75 2.0
-0.15 3.75 2.1
-0.05 3.75 2.2
0.05 3.75 2.3
0.15 3.75 2.4
0.25 3.75 2.5
0.35 3.75 2.6
0.45 3.75 2.7
0.55 3.75 2.8
0.65 3.75 2.9
0.75 3.75 3.1
0.85 3.75 3.5
0.95 3.75 4.0
-0.95 3.25 0.2
-0.85 3.25 0.9
-0.75 3.25 1.4
-0.65 3.25 1.6
-0.55 3.25 1.7
-0.45 3.25 1.8
-0.35 3.25 1.9
-0.25 3.25 2.0
-0.15 3.25 2.1
-0.05 3.25 2.1
0.05 3.25 2.3
0.15 3.25 2.4
0.25 3.25 2.5
0.35 3.25 2.6
0.45 3.25 2.6
0.55 3.25 2.7
0.65 3.25 2.8
0.75 3.25 3.0
0.85 3.25 3.4
0.95 3.25 4.0
-0.95 2.75 0.2
-0.85 2.75 0.8
-0.75 2.75 1.3
-0.65 2.75 1.5
-0.55 2.75 1.7
-0.45 2.75 1.8
-0.35 2.75 1.9
-0.25 2.75 2.0
-0.15 2.75 2.0
-0.05 2.75 2.1
0.05 2.75 2.3
0.15 2.75 2.4
0.25 2.75 2.5
0.35 2.75 2.5
0.45 2.75 2.6
0.55 2.75 2.7
0.65 2.75 2.8
0.75 2.75 3.0
0.85 2.75 3.4
0.95 2.75 4.0
-0.95 2.25 0.1
-0.85 2.25 0.7
-0.75 2.25 1.2
-0.65 2.25 1.5
-0.55 2.25 1.6
-0.45 2.25 1.7
-0.35 2.25 1.8
-0.25 2.25 1.9
-0.15 2.25 2.0
-0.05 2.25 2.1
0.05 2.25 2.2
0.15 2.25 2.3
0.25 2.25 2.4
0.35 2.25 2.5
0.45 2.25 2.6
0.55 2.25 2.6
0.65 2.25 2.7
0.75 2.25 2.9
0.85 2.25 3.3
0.95 2.25 4.0
-0.95 1.75 0.1
-0.85 1.75 0.6
-0.75 1.75 1.1
-0.65 1.75 1.4
-0.55 1.75 1.6
-0.45 1.75 1.7
-0.35 1.75 1.8
-0.25 1.75 1.9
-0.15 1.75 2.0
-0.05 1.75 2.0
0.05 1.75 2.2
0.15 1.75 2.3
0.25 1.75 2.4
0.35 1.75 2.4
0.45 1.75 2.5
0.55 1.75 2.6
0.65 1.75 2.7
0.75 1.75 2.9
0.85 1.75 3.2
0.95 1.75 4.0
-0.85 1.25 0.5
-0.75 1.25 1.0
-0.65 1.25 1.3
-0.55 1.25 1.5
-0.45 1.25 1.6
-0.35 1.25 1.7
-0.25 1.25 1.8
-0.15 1.25 1.9
-0.05 1.25 2.0
0.05 1.25 2.1
0.15 1.25 2.2
0.25 1.25 2.3
0.35 1.25 2.4
0.45 1.25 2.5
0.55 1.25 2.5
0.65 1.25 2.6
0.75 1.25 2.8
0.85 1.25 3.1
0.95 1.25 4.0
-0.95 0.75 0.0
-0.85 0.75 0.3
-0.75 0.75 0.8
-0.65 0.75 1.1
-0.55 0.75 1.3
-0.45 0.75 1.5
-0.35 0.75 1.6
-0.25 0.75 1.7
-0.15 0.75 1.8
-0.05 0.75 1.9
0.05 0.75 2.1
0.15 0.75 2.2
0.25 0.75 2.3
0.35 0.75 2.3
0.45 0.75 2.4
0.55 0.75 2.5
0.65 0.75 2.6
0.75 0.75 2.7
0.85 0.75 3.0
0.95 0.75 4.0
-0.85 0.25 0.0
-0.75 0.25 0.2
-0.65 0.25 0.5
-0.55 0.25 0.8
-0.45 0.25 1.0
-0.35 0.25 1.2
-0.25 0.25 1.4
-0.15 0.25 1.6
-0.05 0.25 1.7
0.05 0.25 1.9
0.15 0.25 2.0
0.25 0.25 2.1
0.35 0.25 2.2
0.45 0.25 2.3
0.55 0.25 2.4
0.65 0.25 2.5
0.75 0.25 2.6
0.85 0.25 2.8
0.95 0.25 3.9
}\TabDb
\begin{document}
\begin{tikzpicture}
\useasboundingbox (-27pt,17pt) rectangle (595.5pt,-351.2pt);
\begin{axis}[panel, toprow, at={(0pt,0pt)}, anchor=north west, title={M1\_c\_b}, ylabel={Stellar Age [Gyr]}]
\addplot[shadeplot] coordinates {(-1,8) (0,8) (0,9.8) (-1,9.8) (-1,8)};
\addplot[cellplot] table[x=x,y=y] {\TabAt};
\addplot[zeroline] coordinates {(0,0) (0,9.8)};
\end{axis}
\begin{axis}[panel, toprow, at={(140.8pt,0pt)}, anchor=north west, title={M2\_c\_nb}]
\addplot[shadeplot] coordinates {(-1,6.5) (0,6.5) (0,9.8) (-1,9.8) (-1,6.5)};
\addplot[cellplot] table[x=x,y=y] {\TabBt};
\addplot[zeroline] coordinates {(0,0) (0,9.8)};
\end{axis}
\begin{axis}[panel, toprow, at={(281.6pt,0pt)}, anchor=north west, title={M3\_nc\_b}]
\addplot[cellplot] table[x=x,y=y] {\TabCt};
\addplot[zeroline] coordinates {(0,0) (0,9.8)};
\end{axis}
\begin{axis}[panel, toprow, cbtop, name=axtopfour, at={(422.3pt,0pt)}, anchor=north west, title={M4\_nc\_bd}]
\addplot[cellplot] table[x=x,y=y] {\TabDt};
\addplot[zeroline] coordinates {(0,0) (0,9.8)};
\node[anchor=base, font=\fontsize{16}{19}\selectfont] at (axis cs:0.07,1.5) {$R>5\,\mathrm{kpc}$};
\end{axis}
\node[rotate=90, font=\fontsize{12}{14}\selectfont] at ([xshift=52.5pt]axtopfour.east) {$\Sigma_{\star}[\mathrm{M_{\odot}\,kpc^{-2}}]$};
\begin{axis}[panel, botrow, at={(0pt,-176.7pt)}, anchor=north west, ylabel={Stellar Age [Gyr]}, xlabel={$L_{\mathrm{z}}/L_{\mathrm{c}}(\mathrm{E})$}]
\addplot[cellplot] table[x=x,y=y] {\TabAb};
\addplot[zeroline] coordinates {(0,0) (0,9.8)};
\end{axis}
\begin{axis}[panel, botrow, at={(140.8pt,-176.7pt)}, anchor=north west, xlabel={$L_{\mathrm{z}}/L_{\mathrm{c}}(\mathrm{E})$}]
\addplot[cellplot] table[x=x,y=y] {\TabBb};
\addplot[zeroline] coordinates {(0,0) (0,9.8)};
\end{axis}
\begin{axis}[panel, botrow, at={(281.6pt,-176.7pt)}, anchor=north west, xlabel={$L_{\mathrm{z}}/L_{\mathrm{c}}(\mathrm{E})$}]
\addplot[cellplot] table[x=x,y=y] {\TabCb};
\addplot[zeroline] coordinates {(0,0) (0,9.8)};
\end{axis}
\begin{axis}[panel, botrow, cbbot, name=axbotfour, at={(422.3pt,-176.7pt)}, anchor=north west, xlabel={$L_{\mathrm{z}}/L_{\mathrm{c}}(\mathrm{E})$}]
\addplot[cellplot] table[x=x,y=y] {\TabDb};
\addplot[zeroline] coordinates {(0,0) (0,9.8)};
\node[anchor=base, font=\fontsize{16}{19}\selectfont] at (axis cs:0.07,1.5) {$R<5\,\mathrm{kpc}$};
\end{axis}
\node[rotate=90, font=\fontsize{12}{14}\selectfont] at ([xshift=52.5pt]axbotfour.east) {$\Sigma_{\star}[\mathrm{M_{\odot}\,kpc^{-2}}]$};
\end{tikzpicture}
\end{document}
